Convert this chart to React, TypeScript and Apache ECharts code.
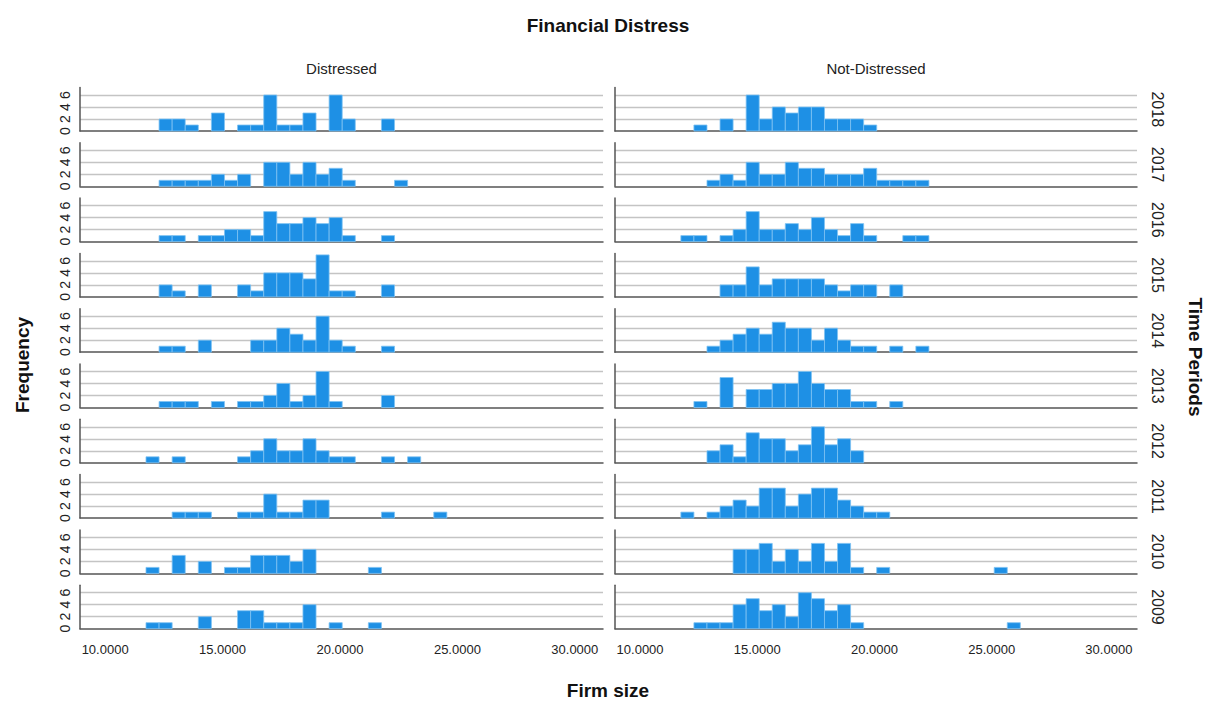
import React, { useEffect, useRef } from "react";
import * as echarts from "echarts";

// ---- data (counts per histogram bin, Firm size) ----
const binStart = 11.74;
const binWidth = 0.557;
const years = ["2018", "2017", "2016", "2015", "2014", "2013", "2012", "2011", "2010", "2009"];
const groups = ["Distressed", "Not-Distressed"];
const xTicks = [10, 15, 20, 25, 30];

const distressed2018 = [0,2,2,1,0,3,0,1,1,6,1,1,3,0,6,2,0,0,2,0,0,0,0,0,0,0];
const distressed2017 = [0,1,1,1,1,2,1,2,0,4,4,2,4,2,3,1,0,0,0,1,0,0,0,0,0,0];
const distressed2016 = [0,1,1,0,1,1,2,2,1,5,3,3,4,3,4,1,0,0,1,0,0,0,0,0,0,0];
const distressed2015 = [0,2,1,0,2,0,0,2,1,4,4,4,3,7,1,1,0,0,2,0,0,0,0,0,0,0];
const distressed2014 = [0,1,1,0,2,0,0,0,2,2,4,3,2,6,2,1,0,0,1,0,0,0,0,0,0,0];
const distressed2013 = [0,1,1,1,0,1,0,1,1,2,4,1,2,6,1,0,0,0,2,0,0,0,0,0,0,0];
const distressed2012 = [1,0,1,0,0,0,0,1,2,4,2,2,4,2,1,1,0,0,1,0,1,0,0,0,0,0];
const distressed2011 = [0,0,1,1,1,0,0,1,1,4,1,1,3,3,0,0,0,0,1,0,0,0,1,0,0,0];
const distressed2010 = [1,0,3,0,2,0,1,1,3,3,3,2,4,0,0,0,0,1,0,0,0,0,0,0,0,0];
const distressed2009 = [1,1,0,0,2,0,0,3,3,1,1,1,4,0,1,0,0,1,0,0,0,0,0,0,0,0];

const notDistressed2018 = [0,1,0,2,0,6,2,4,3,4,4,2,2,2,1,0,0,0,0,0,0,0,0,0,0,0];
const notDistressed2017 = [0,0,1,2,1,4,2,2,4,3,3,2,2,2,3,1,1,1,1,0,0,0,0,0,0,0];
const notDistressed2016 = [1,1,0,1,2,5,2,2,3,2,4,2,1,3,1,0,0,1,1,0,0,0,0,0,0,0];
const notDistressed2015 = [0,0,0,2,2,5,2,3,3,3,3,2,1,2,2,0,2,0,0,0,0,0,0,0,0,0];
const notDistressed2014 = [0,0,1,2,3,4,3,5,4,4,2,4,2,1,1,0,1,0,1,0,0,0,0,0,0,0];
const notDistressed2013 = [0,1,0,5,0,3,3,4,4,6,4,3,3,1,1,0,1,0,0,0,0,0,0,0,0,0];
const notDistressed2012 = [0,0,2,3,1,5,4,4,2,3,6,3,4,2,0,0,0,0,0,0,0,0,0,0,0,0];
const notDistressed2011 = [1,0,1,2,3,2,5,5,2,4,5,5,3,2,1,1,0,0,0,0,0,0,0,0,0,0];
const notDistressed2010 = [0,0,0,0,4,4,5,2,4,2,5,2,5,1,0,1,0,0,0,0,0,0,0,0,1,0];
const notDistressed2009 = [0,1,1,1,4,5,3,4,2,6,5,3,4,1,0,0,0,0,0,0,0,0,0,0,0,1];

const distressedRows = [distressed2018, distressed2017, distressed2016, distressed2015, distressed2014,
  distressed2013, distressed2012, distressed2011, distressed2010, distressed2009];
const notDistressedRows = [notDistressed2018, notDistressed2017, notDistressed2016, notDistressed2015, notDistressed2014,
  notDistressed2013, notDistressed2012, notDistressed2011, notDistressed2010, notDistressed2009];

// ---- layout ----
const W = 1213, H = 702;
const FONT = "'Liberation Sans', Arial, sans-serif";
const top0 = 87.5, rowH = 43.5, pitch = 55.3;
const colLeft = [80, 615];
const colWidth = [523, 522];
const xMin = 8.93, xMax = 31.2;
const yMax = 7.25;
const barColor = "#1E90E5";

export default function App() {
  const ref = useRef<HTMLDivElement>(null);
  useEffect(() => {
    if (!ref.current) return;
    const chart = echarts.init(ref.current, null, { renderer: "svg", width: W, height: H });
    const grids: any[] = [], xAxes: any[] = [], yAxes: any[] = [], series: any[] = [];
    const graphics: any[] = [];
    const allRows = [distressedRows, notDistressedRows];
    let idx = 0;
    for (let c = 0; c < 2; c++) {
      for (let r = 0; r < years.length; r++) {
        const bottom = r === years.length - 1;
        grids.push({ left: colLeft[c], width: colWidth[c], top: top0 + r * pitch, height: rowH, containLabel: false });
        xAxes.push({
          type: "value", gridIndex: idx, min: xMin, max: xMax,
          axisLine: { show: true, lineStyle: { color: "#555", width: 1.5 } },
          axisTick: { show: false },
          splitLine: { show: false },
          axisLabel: bottom ? {
            show: true, customValues: xTicks, formatter: (v: number) => v.toFixed(4),
            fontFamily: FONT, fontSize: 13, color: "#222", margin: 14,
          } : { show: false },
        });
        yAxes.push({
          type: "value", gridIndex: idx, min: 0, max: yMax, interval: 2,
          axisLine: { show: true, lineStyle: { color: "#555", width: 1.5 } },
          axisTick: { show: false },
          splitLine: { show: true, showMinLine: false, showMaxLine: false, lineStyle: { color: "#c4c4c4", width: 1.3 } },
          axisLabel: c === 0 ? {
            show: true, rotate: 90, showMaxLabel: false, fontFamily: FONT, fontSize: 14, color: "#222", margin: 8,
          } : { show: false },
        });
        const counts = allRows[c][r];
        const data: number[][] = [];
        counts.forEach((v, i) => { if (v > 0) data.push([i, v]); });
        series.push({
          type: "custom", xAxisIndex: idx, yAxisIndex: idx, data,
          renderItem: (params: any, api: any) => {
            const i = api.value(0), v = api.value(1);
            const x0 = binStart + i * binWidth;
            const p0 = api.coord([x0, v]);
            const p1 = api.coord([x0 + binWidth, 0]);
            return {
              type: "rect",
              shape: { x: p0[0], y: p0[1], width: p1[0] - p0[0], height: p1[1] - p0[1] },
              style: { fill: barColor, stroke: "#7fc3f3", lineWidth: 0.8 },
            };
          },
        });
        idx++;
      }
    }
    years.forEach((y, r) => {
      graphics.push({
        type: "text", x: 1157, y: top0 + r * pitch + rowH / 2, rotation: -Math.PI / 2,
        style: { text: y, font: `16px ${FONT}`, fill: "#222", align: "center", verticalAlign: "middle" },
      });
    });
    groups.forEach((g, c) => {
      graphics.push({
        type: "text", x: colLeft[c] + colWidth[c] / 2, y: 68,
        style: { text: g, font: `15px ${FONT}`, fill: "#222", align: "center", verticalAlign: "middle" },
      });
    });
    graphics.push({
      type: "text", x: 608, y: 25,
      style: { text: "Financial Distress", font: `bold 19px ${FONT}`, fill: "#111", align: "center", verticalAlign: "middle" },
    });
    graphics.push({
      type: "text", x: 608, y: 690,
      style: { text: "Firm size", font: `bold 19px ${FONT}`, fill: "#111", align: "center", verticalAlign: "middle" },
    });
    graphics.push({
      type: "text", x: 22, y: 365, rotation: Math.PI / 2,
      style: { text: "Frequency", font: `bold 19px ${FONT}`, fill: "#111", align: "center", verticalAlign: "middle" },
    });
    graphics.push({
      type: "text", x: 1195, y: 357, rotation: -Math.PI / 2,
      style: { text: "Time Periods", font: `bold 19px ${FONT}`, fill: "#111", align: "center", verticalAlign: "middle" },
    });

    chart.setOption({
      animation: false,
      backgroundColor: "#fff",
      grid: grids, xAxis: xAxes, yAxis: yAxes, series,
      graphic: graphics,
    });
    return () => chart.dispose();
  }, []);
  return <div ref={ref} style={{ position: "fixed", left: 0, top: 0, width: W, height: H }} />;
}
